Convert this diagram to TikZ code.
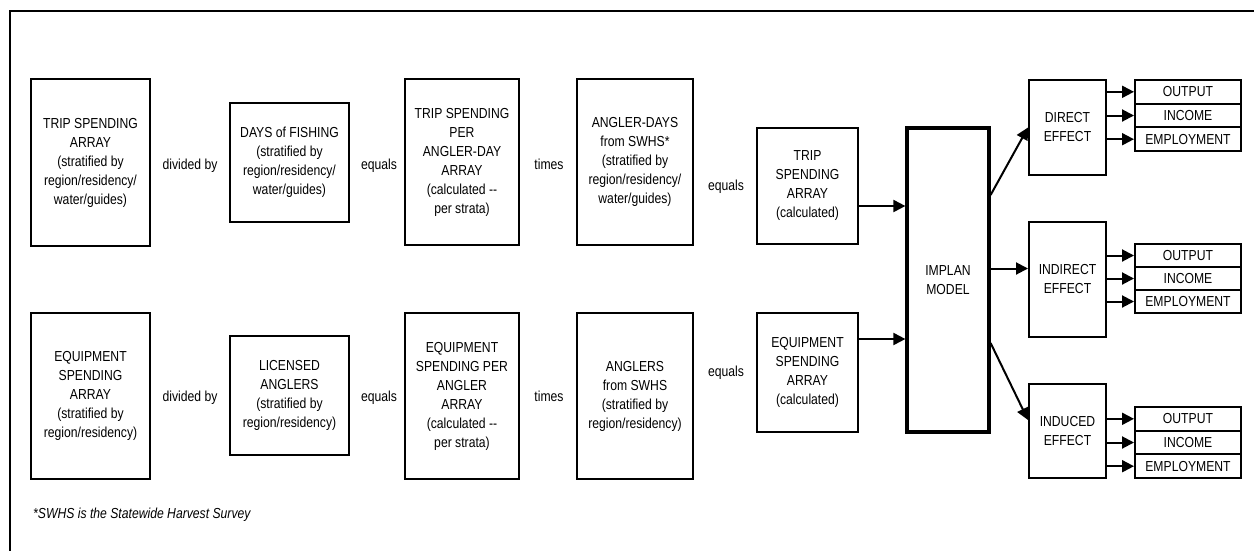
\documentclass[tikz,border=0pt]{standalone}
\usepackage{fontspec}
\setmainfont{Liberation Sans}[FakeStretch=0.84]
\usetikzlibrary{arrows.meta}
\begin{document}
\begin{tikzpicture}[x=1pt,y=-1pt,
  every node/.style={font=\fontsize{14.5}{19}\selectfont},
  box/.style={draw, line width=2pt, inner sep=0pt, align=center},
  implanbox/.style={box, line width=3.2pt},
  outrow/.style={box, minimum width=106pt, minimum height=23.7pt},
  lbl/.style={inner sep=0pt},
  arr/.style={line width=2pt, -{Triangle[length=12pt,width=12pt]}}]
\useasboundingbox (0,0) rectangle (1254,550);
\draw[line width=2.5pt] (10,551) -- (10,11) -- (1255,11);

% top row
\node[box, minimum width=119pt, minimum height=167pt] (tsa) at (90.5,162.5)
  {TRIP SPENDING\\ARRAY\\(stratified by\\region/residency/\\water/guides)};
\node[lbl] (div1) at (190,166) {divided by};
\node[box, minimum width=119pt, minimum height=119pt] (dof) at (289.5,162.5)
  {DAYS of FISHING\\(stratified by\\region/residency/\\water/guides)};
\node[lbl] (eq1) at (379,166) {equals};
\node[box, minimum width=114pt, minimum height=166pt] (tspad) at (462,162)
  {TRIP SPENDING\\PER\\ANGLER-DAY\\ARRAY\\(calculated -{}-\\per strata)};
\node[lbl] (tim1) at (549,164) {times};
\node[box, minimum width=116pt, minimum height=166pt] (ad) at (635,162)
  {ANGLER-DAYS\\from SWHS*\\(stratified by\\region/residency/\\water/guides)};
\node[lbl] (eq2) at (726,187) {equals};
\node[box, minimum width=101pt, minimum height=116pt] (tsc) at (807.5,186)
  {TRIP\\SPENDING\\ARRAY\\(calculated)};

% bottom row
\node[box, minimum width=119pt, minimum height=166pt] (esa) at (90.5,396)
  {EQUIPMENT\\SPENDING\\ARRAY\\(stratified by\\region/residency)};
\node[lbl] (div2) at (190,398) {divided by};
\node[box, minimum width=119pt, minimum height=119pt] (la) at (289.5,395.5)
  {LICENSED\\ANGLERS\\(stratified by\\region/residency)};
\node[lbl] (eq3) at (379,398) {equals};
\node[box, minimum width=114pt, minimum height=166pt] (espa) at (462,396)
  {EQUIPMENT\\SPENDING PER\\ANGLER\\ARRAY\\(calculated -{}-\\per strata)};
\node[lbl] (tim2) at (549,396) {times};
\node[box, minimum width=116pt, minimum height=166pt] (ang) at (635,396)
  {ANGLERS\\from SWHS\\(stratified by\\region/residency)};
\node[lbl] (eq4) at (726,373) {equals};
\node[box, minimum width=101pt, minimum height=119pt] (esc) at (807.5,372.5)
  {EQUIPMENT\\SPENDING\\ARRAY\\(calculated)};

% model and effects
\node[implanbox, minimum width=82pt, minimum height=304pt] (implan) at (948,280)
  {IMPLAN\\MODEL};
\node[box, minimum width=77pt, minimum height=95pt] (de) at (1067.5,127.5)
  {DIRECT\\EFFECT};
\node[box, minimum width=77pt, minimum height=115pt] (ie) at (1067.5,279.5)
  {INDIRECT\\EFFECT};
\node[box, minimum width=77pt, minimum height=94pt] (ue) at (1067.5,431)
  {INDUCED\\EFFECT};

% output rows
\node[outrow] (do) at (1188,91.8) {OUTPUT};
\node[outrow] (di) at (1188,115.5) {INCOME};
\node[outrow] (dm) at (1188,139.2) {EMPLOYMENT};
\node[outrow, minimum height=23pt] (io) at (1188,255.5) {OUTPUT};
\node[outrow, minimum height=23pt] (ii) at (1188,278.5) {INCOME};
\node[outrow, minimum height=23pt] (im) at (1188,301.5) {EMPLOYMENT};
\node[outrow] (uo) at (1188,418.8) {OUTPUT};
\node[outrow] (ui) at (1188,442.5) {INCOME};
\node[outrow] (um) at (1188,466.2) {EMPLOYMENT};

% connectors
\draw[arr] ([yshift=-20pt]tsc.east) -- ([yshift=-20pt]tsc.east -| implan.west);
\draw[arr] ([yshift=33.5pt]esc.east) -- ([yshift=33.5pt]esc.east -| implan.west);
\draw[arr] ([yshift=85pt]implan.east) -- (de.west);
\draw[arr] ([yshift=11pt]ie.west -| implan.east) -- ([yshift=11pt]ie.west);
\draw[arr] ([yshift=-63pt]implan.east) -- ([yshift=11pt]ue.west);

\foreach \e/\r in {de/do,de/di,de/dm,ie/io,ie/ii,ie/im,ue/uo,ue/ui,ue/um}
  \draw[arr] (\r.west -| \e.east) -- (\r.west);

% footnote
\node[lbl, anchor=west, font=\fontsize{14.5}{19}\selectfont\itshape] (fn) at (33,515)
  {*SWHS is the Statewide Harvest Survey};
\end{tikzpicture}
\end{document}
